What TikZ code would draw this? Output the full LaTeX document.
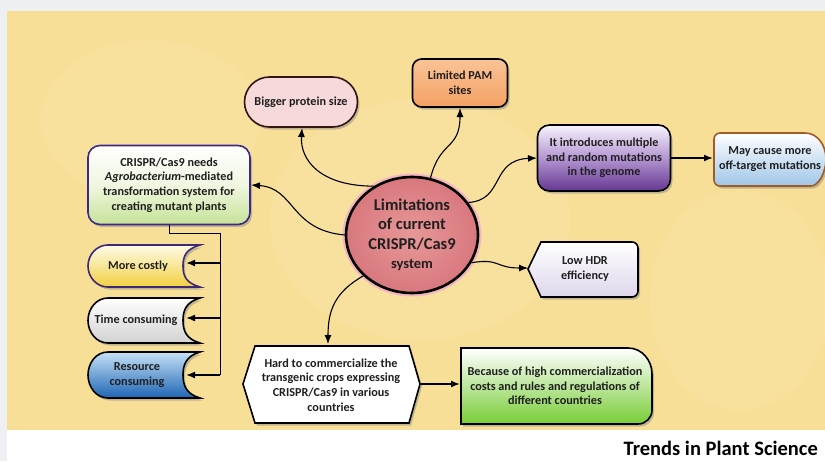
\documentclass[tikz,border=0pt]{standalone}
\usepackage{fontspec}
\setmainfont{Carlito}
\usetikzlibrary{shapes.geometric,shapes.misc,shadows,arrows.meta}
\definecolor{bgyellow}{HTML}{F8DF98}
\definecolor{bglight}{HTML}{FBE8B4}
\definecolor{pagegray}{HTML}{EEF0F4}
\tikzset{
  arr/.style={-{Latex[length=9pt,width=7pt]}, line width=1.1pt, black},
  sarr/.style={-{Latex[length=9pt,width=7pt]}, line width=1.6pt, black},
  txt/.style={font=\fontsize{12.2}{14.6}\selectfont\bfseries, align=center, text=black!88, inner sep=0pt},
  shad/.style={drop shadow={opacity=0.45, shadow xshift=2pt, shadow yshift=-2.5pt}},
  boxline/.style={line width=1.6pt},
}
\newcommand{\scrollshape}[4]{% y1, y2, style, unused
  \path[shad, boxline, #3]
    (200,#1) -- (108,#1) to[out=180,in=90] (88,{(#1+#2)/2}) to[out=-90,in=180] (108,#2) -- (200,#2)
    .. controls (186,{#2-4}) and (183,{(#1+#2)/2+10}) .. (183,{(#1+#2)/2})
    .. controls (183,{(#1+#2)/2-10}) and (186,{#1+4}) .. (200,#1) -- cycle;
}
\begin{document}
\begin{tikzpicture}[x=1pt,y=-1pt]
\useasboundingbox (0,0) rectangle (825,461);
% background
\fill[pagegray] (0,0) rectangle (825,461);
\fill[white] (7,430) rectangle (825,461);
\fill[bgyellow] (7,11) rectangle (825,430);
\begin{scope}
\clip (7,11) rectangle (825,430);
\fill[bglight, opacity=0.25] (420,220) ellipse (150pt and 120pt);
\fill[bglight, opacity=0.2] (740,300) ellipse (90pt and 110pt);
\fill[bglight, opacity=0.18] (150,120) ellipse (110pt and 80pt);
\end{scope}

% centre
\node[ellipse, minimum width=132pt, minimum height=116pt, inner sep=0pt,
  inner color={rgb,255:red,232;green,152;blue,152}, outer color={rgb,255:red,216;green,120;blue,126},
  draw=black, line width=2.6pt, preaction={draw={rgb,255:red,244;green,182;blue,192}, line width=7pt},
  font=\fontsize{16.5}{19.5}\selectfont\bfseries, align=center, text=black!88] (C) at (412,235)
  {Limitations\\of current\\CRISPR/Cas9\\{\fontsize{14.5}{16}\selectfont system}};

% Bigger protein size
\node[rounded rectangle, minimum width=113pt, minimum height=50pt, shad, boxline,
  fill={rgb,255:red,247;green,217;blue,220}, draw={rgb,255:red,50;green,22;blue,22}, txt] (bigger) at (301,102) {Bigger protein size};

% Limited PAM
\node[rectangle, rounded corners=9pt, minimum width=95pt, minimum height=48pt, shad, boxline,
  top color={rgb,255:red,250;green,196;blue,150}, bottom color={rgb,255:red,244;green,160;blue,100}, draw=black, txt] (pam) at (460,83) {Limited PAM\\sites};

% It introduces
\node[rectangle, rounded corners=12pt, minimum width=133pt, minimum height=66pt, shad, boxline,
  top color={rgb,255:red,248;green,244;blue,252}, bottom color={rgb,255:red,100;green,55;blue,145},
  middle color={rgb,255:red,180;green,150;blue,210}, draw=black, txt] (intro) at (604,158)
  {It introduces multiple\\and random mutations\\in the genome};

% May cause
\path[shad, top color=white, bottom color={rgb,255:red,160;green,198;blue,232}, draw={rgb,255:red,160;green,92;blue,40}, boxline]
  [rounded corners=6pt] (805,133) -- (714,133) -- (714,186) -- (805,186)
  [sharp corners] to[out=0,in=-90] (826,159) to[out=90,in=0] (805,133);
\node[txt] (may) at (770,159) {May cause more\\off-target mutations};
\coordinate (mayW) at (713,158);

% CRISPR needs
\node[rectangle, rounded corners=12pt, minimum width=162pt, minimum height=79pt, shad, boxline,
  top color=white, bottom color={rgb,255:red,198;green,226;blue,150}, middle color={rgb,255:red,240;green,247;blue,225},
  draw={rgb,255:red,62;green,40;blue,140}, txt] (needs) at (169,185)
  {CRISPR/Cas9 needs\\\textit{Agrobacterium}-mediated\\transformation system for\\creating mutant plants};

% Low HDR
\path[shad, top color=white, bottom color={rgb,255:red,222;green,214;blue,236}, draw=black, boxline]
  (528,269) -- (541,242) [rounded corners=6pt] -- (638,242) -- (638,297) [sharp corners] -- (541,297) -- cycle;
\node[txt] (hdr) at (585,269) {Low HDR\\efficiency};
\coordinate (hdrW) at (528,268);

% Hard to commercialize
\path[shad, fill=white, draw=black, boxline]
  (243,384) -- (255,346) -- (409,346) -- (420,384) -- (409,423) -- (255,423) -- cycle;
\node[txt] (hard) at (331,385) {Hard to commercialize the\\transgenic crops expressing\\CRISPR/Cas9 in various\\countries};
\coordinate (hardN) at (328,344);
\coordinate (hardE) at (421,384);

% Because
\path[shad, top color=white, bottom color={rgb,255:red,120;green,205;blue,55}, draw=black, boxline]
  (461,348) -- (628,348) to[out=0,in=90] (652,374) -- (652,410) to[out=-90,in=0] (638,424) -- (461,424) -- cycle;
\node[txt] (because) at (555,386) {Because of high commercialization\\costs and rules and regulations of\\different countries};
\coordinate (becW) at (460,384);

% left scroll shapes
\scrollshape{245}{287}{top color={rgb,255:red,255;green,251;blue,232}, bottom color={rgb,255:red,240;green,208;blue,64}, draw={rgb,255:red,62;green,40;blue,120}}{}
\scrollshape{298}{343}{top color=white, bottom color={rgb,255:red,210;green,210;blue,210}, draw=black}{}
\scrollshape{352}{398}{top color={rgb,255:red,196;green,226;blue,246}, bottom color={rgb,255:red,30;green,100;blue,180}, draw=black}{}
\node[txt] (costly) at (138,266) {More costly};
\node[txt] (time) at (136,320) {Time consuming};
\node[txt] (res) at (137,375) {Resource\\consuming};
\coordinate (costlyE) at (186,263);
\coordinate (timeE) at (186,318);
\coordinate (resE) at (186,375);

% tree connector
\coordinate (j0) at (169,233);
\coordinate (j1) at (220,233);
\coordinate (j2) at (220,263);
\coordinate (j3) at (220,318);
\coordinate (j4) at (220,375);
\draw[line width=1pt] (169,225) -- (j0) -- (j1) -- (j4);
\draw[sarr] (j2) -- (costlyE);
\draw[sarr] (j3) -- (timeE);
\draw[sarr] (j4) -- (resE);

% curved arrows from centre
\draw[arr] (C.128) .. controls (320,186) and (300,160) .. (302,128);
\draw[arr] (C.72) .. controls (440,140) and (460,150) .. (460,108);
\draw[arr] (C.30) .. controls (505,200) and (490,160) .. (537,158);
\draw[arr] (C.180) .. controls (290,230) and (295,188) .. (251,185);
\draw[arr] (C.-25) .. controls (500,258) and (495,268) .. (hdrW);
\draw[arr] (C.-140) .. controls (335,292) and (328,310) .. (hardN);

% straight arrows
\draw[sarr] (670,158) -- (mayW);
\draw[sarr] (hardE) -- (becW);

\node[anchor=base east, inner sep=0pt, font=\fontsize{20.5}{22}\selectfont\bfseries] (title) at (818,455) {Trends in Plant Science};
\end{tikzpicture}
\end{document}
